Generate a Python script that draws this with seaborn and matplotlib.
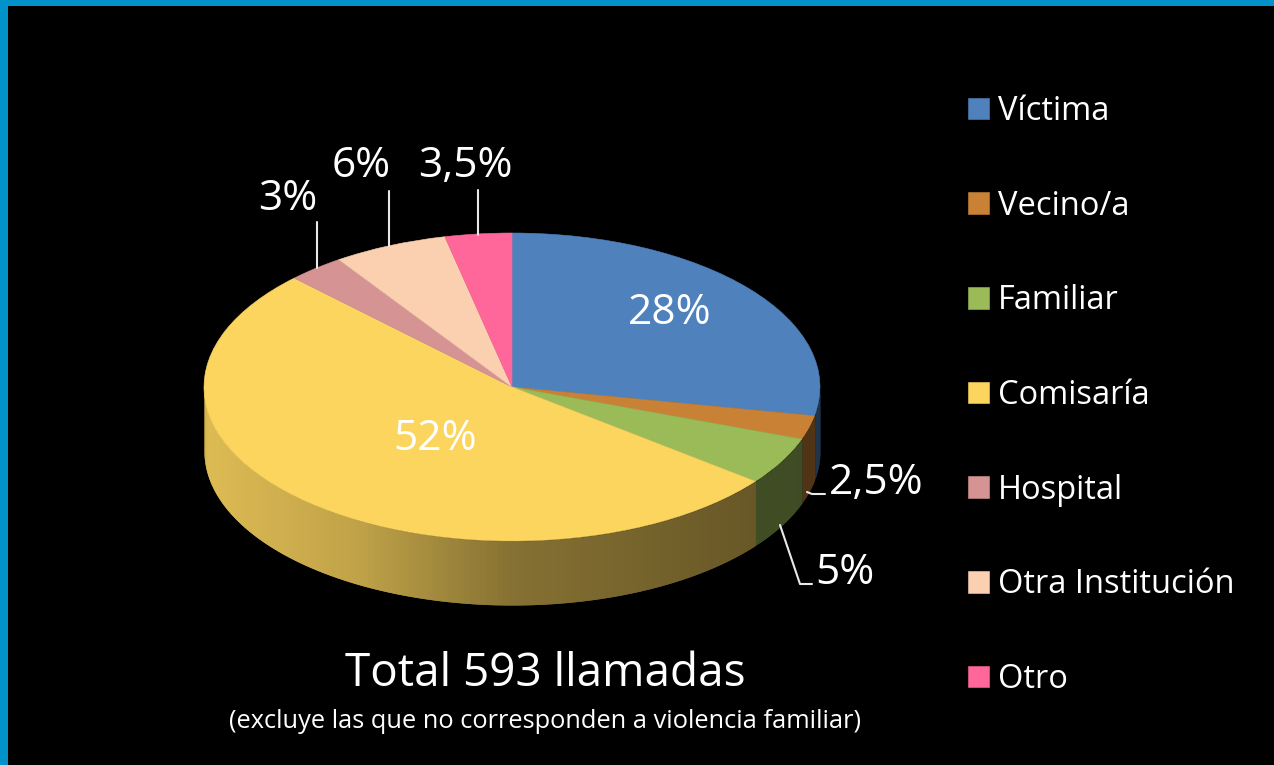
import numpy as np
import seaborn as sns
import matplotlib.pyplot as plt

categories = ['Víctima', 'Vecino/a', 'Familiar', 'Comisaría', 'Hospital', 'Otra Institución', 'Otro']
values = [28, 2.5, 5, 52, 3, 6, 3.5]
pct_labels = ['28%', '2,5%', '5%', '52%', '3%', '6%', '3,5%']
colors = ['#4F81BD', '#C98235', '#9BBB59', '#FCD55F', '#D69393', '#FAD0B1', '#FF6699']

W, H = 1274, 765
CX, CY, RX, RY, DEPTH = 512, 387, 308, 154, 64

sns.set_theme(style='dark', rc={'figure.facecolor': '#0092C8', 'axes.facecolor': 'black'})
plt.rcParams['font.family'] = ['Open Sans', 'DejaVu Sans']
palette = sns.color_palette(colors)

fig = plt.figure(figsize=(W / 100, H / 100), dpi=100)


def px_axes(left, top, right, bottom):
    return fig.add_axes([left / W, 1 - bottom / H, (right - left) / W, (bottom - top) / H])


bg = px_axes(8, 6, W, H)
bg.set_xticks([])
bg.set_yticks([])
for s in bg.spines.values():
    s.set_visible(False)

# pie axes: unit circle squashed into the ellipse
ax = px_axes(CX - RX * 1.3, CY - RY * 1.3, CX + RX * 1.3, CY + RY * 1.8)
ax.patch.set_alpha(0)
wedges, _ = ax.pie(values, colors=palette, startangle=90, counterclock=False, radius=1,
                   wedgeprops={'linewidth': 0.4, 'zorder': 5})
for w, c in zip(wedges, palette):
    w.set_edgecolor(c)
ax.set_aspect('auto')
ax.set_xlim(-1.3, 1.3)
ax.set_ylim(-1.8, 1.3)

# side wall of the pie, darker towards the right
depth = DEPTH / RY
edges = 90 - np.cumsum([0] + values) * 3.6
for i, c in enumerate(palette):
    a0, a1 = edges[i], edges[i + 1]
    lo = max(a1, -180)
    hi = min(a0, 0)
    if lo >= hi:
        continue
    th = np.radians(np.linspace(lo, hi, max(int(hi - lo), 2) + 1))
    # painted left to right, each strip reaches over the next so no seams show
    for k in range(len(th) - 1):
        part = np.linspace(th[k], th[min(k + 2, len(th) - 1)], 5)
        xs = np.cos(part)
        ys = np.sin(part)
        mid = np.cos((th[k] + th[k + 1]) / 2)
        shade = np.interp(mid, [-1, -0.5, 0, 0.8, 1], [0.88, 0.76, 0.53, 0.41, 0.40])
        col = tuple(v * shade for v in c)
        ax.fill_between(xs, ys, ys - depth, color=col, lw=0, zorder=2)

# overlay in pixel coordinates for labels and leader lines
ov = px_axes(0, 0, W, H)
ov.patch.set_alpha(0)
ov.set_xlim(0, W)
ov.set_ylim(H, 0)
ov.axis('off')

label_pos = [(670, 313), (876, 483), (845, 573), (435, 439), (288, 199), (361, 166), (465, 166)]
for txt, (x, y) in zip(pct_labels, label_pos):
    ov.text(x, y, txt, color='white', fontsize=30.5, ha='center', va='center')

leaders = [
    ([317, 317], [222, 268]),
    ([389, 389], [191, 246]),
    ([478, 478], [190, 235]),
    ([807, 812, 825], [492, 494, 494]),
    ([780, 800, 812], [525, 584, 584]),
]
for xs, ys in leaders:
    ov.plot(xs, ys, color='#E8E8E8', lw=1.5)

ov.text(545, 674, 'Total 593 llamadas', color='white', fontsize=33, ha='center', va='center')
ov.text(545, 722, '(excluye las que no corresponden a violencia familiar)', color='white',
        fontsize=18.3, ha='center', va='center')

leg = fig.legend(wedges, categories, loc='upper left', bbox_to_anchor=(968 / W, 1 - 95 / H),
                 frameon=False, fontsize=23.5, labelcolor='white', handlelength=0.645, handleheight=0.645,
                 handletextpad=0.28, labelspacing=1.89, borderpad=0, borderaxespad=0)

fig.savefig('out.png', dpi=100, facecolor=fig.get_facecolor())
